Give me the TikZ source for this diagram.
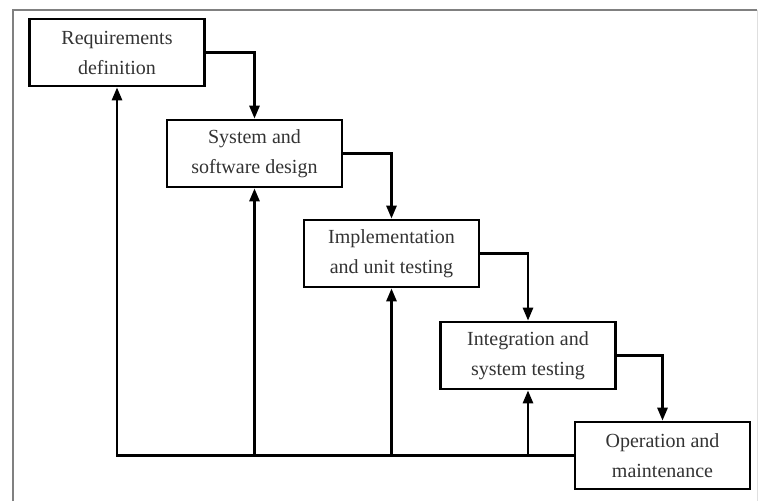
\documentclass[tikz,border=0pt]{standalone}
\usepackage{fontspec}
\setmainfont{Liberation Serif}
\usetikzlibrary{arrows.meta}

\begin{document}
\begin{tikzpicture}[x=1pt, y=-1pt] %y nach unten, wie im Bild
\tikzstyle{every node} = [draw, line width=2.7pt, fill=white, minimum width=175pt, minimum height=67pt, align=center, text=black!80, font=\fontsize{20}{30}\selectfont]
\tikzstyle{flow} = [line width=2.7pt, -{Triangle[length=13pt, width=10pt]}]
\useasboundingbox (0,0) rectangle (758,501);
\draw[gray, line width=2pt] (13,501) -- (13,10) -- (757,10);
\draw[gray!25, line width=1pt] (757,10) -- (757,501);
\node (req) at (117, 52.5) {Requirements\\definition};
\node (des) at (254.5, 153.5) {System and\\software design};
\node (imp) at (391.5, 253.5) {Implementation\\and unit testing};
\node (int) at (528, 355.5) {Integration and\\system testing};
\node (ope) at (662.5, 455.5) {Operation and\\maintenance};
\foreach \from/\to in {req/des, des/imp, imp/int, int/ope}
\draw [flow] (\from.east) -| (\to.north);
\draw [flow] (ope.west) -| (req.south);
\foreach \to in {des, imp, int}
\draw [flow] (\to.south |- ope.west) -- (\to.south);
\end{tikzpicture}
\end{document}
